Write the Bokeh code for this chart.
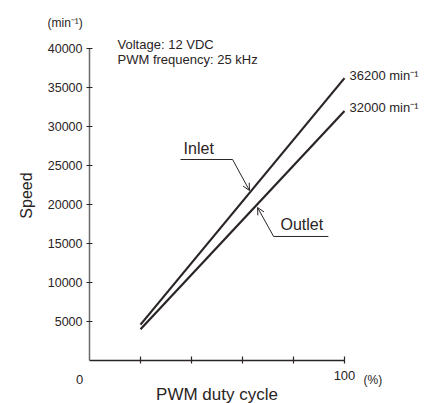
import numpy as np
from bokeh.plotting import figure
from bokeh.models import Label, Arrow, OpenHead, FixedTicker, Range1d, LinearAxis
from bokeh.embed import file_html
from bokeh.resources import INLINE

# ---- data ----
duty = [20, 100]                 # PWM duty cycle (%)
inlet = [4600, 36200]            # min^-1
outlet = [4000, 32000]           # min^-1
y_ticks = [5000, 10000, 15000, 20000, 25000, 30000, 35000, 40000]
x_ticks = [20, 40, 60, 80, 100]
end_labels = ["36200 min\u207b\u00b9", "32000 min\u207b\u00b9"]

DARK = "#2a2424"
GREY = "#6e6a6a"
SANS = "Liberation Sans"

# layout: plot area fills the canvas, axes are placed at the data origin
W, H = 437, 403
ORG_X, ORG_Y = 89, 360           # pixel position of the origin
PX_X = 255 / 100                 # px per % duty
PX_Y = 312 / 40000               # px per min^-1

p = figure(width=W, height=H,
           x_range=Range1d(-ORG_X / PX_X, (W - ORG_X) / PX_X),
           y_range=Range1d(-(H - ORG_Y) / PX_Y, ORG_Y / PX_Y),
           x_axis_type=None, y_axis_type=None,
           output_backend="svg", toolbar_location=None, min_border=0,
           min_border_left=0, min_border_right=0, min_border_top=0, min_border_bottom=0)
p.outline_line_color = None
p.grid.visible = False
p.background_fill_color = "white"

# y axis
ya = LinearAxis(fixed_location=0, bounds=(0, 40000), ticker=FixedTicker(ticks=y_ticks))
ya.axis_line_color = GREY
ya.axis_line_width = 1.5
ya.major_tick_line_color = DARK
ya.major_tick_line_width = 1.2
ya.major_tick_in = 3
ya.major_tick_out = 3
ya.minor_tick_line_color = None
ya.major_label_standoff = 4
ya.major_label_text_font = SANS
ya.major_label_text_font_size = "12.5px"
ya.major_label_text_color = DARK
p.add_layout(ya, "left")

# x axis
xa = LinearAxis(fixed_location=0, bounds=(0, 100), ticker=FixedTicker(ticks=x_ticks))
xa.major_label_overrides = {20: "", 40: "", 60: "", 80: "", 100: "100"}
xa.axis_line_color = DARK
xa.axis_line_width = 1.5
xa.major_tick_line_color = DARK
xa.major_tick_line_width = 1.2
xa.major_tick_in = 4
xa.major_tick_out = 3
xa.minor_tick_line_color = None
xa.major_label_standoff = 7
xa.major_label_text_font = SANS
xa.major_label_text_font_size = "13px"
xa.major_label_text_color = DARK
p.add_layout(xa, "below")

# data lines
p.line(duty, inlet, line_width=2.2, line_color=DARK)
p.line(duty, outlet, line_width=2.2, line_color=DARK)


def lab(x, y, text, size, align="left", baseline="middle", angle=0, xo=0, yo=0):
    p.add_layout(Label(x=x, y=y, text=text, text_font=SANS, text_font_size=size,
                       text_color=DARK, text_align=align, text_baseline=baseline,
                       angle=angle, x_offset=xo, y_offset=yo))


# end labels
lab(duty[-1], inlet[-1], end_labels[0], "13px", xo=5, yo=3)
lab(duty[-1], outlet[-1], end_labels[1], "13px", xo=5, yo=3)

# unit / axis texts
lab(0, 40000, "(min\u207b\u00b9)", "12px", xo=-42, yo=26)
lab(0, 0, "0", "13px", align="center", xo=-10, yo=-19)
lab(100, 0, "(%)", "12px", xo=19, yo=-19)
lab(50, 0, "PWM duty cycle", "17px", align="center", yo=-34)
lab(0, 21150, "Speed", "16px", align="center", angle=np.pi / 2, xo=-63)

# condition text
lab(11, 40450, "Voltage: 12 VDC", "13px")
lab(11, 38550, "PWM frequency: 25 kHz", "13px")

# Inlet annotation
xi = 62.75
yi = float(np.interp(xi, duty, inlet)) + 300
p.line([35.7, 56.1], [25770, 25770], line_width=1, line_color=DARK)
p.add_layout(Arrow(end=OpenHead(size=7, line_width=1, line_color=DARK),
                   x_start=56.1, y_start=25770, x_end=xi, y_end=yi,
                   line_width=1, line_color=DARK))
lab(36.9, 27180, "Inlet", "16px")

# Outlet annotation
xo_ = 65.9
yo_ = float(np.interp(xo_, duty, outlet)) - 450
p.line([72.2, 93.7], [15900, 15900], line_width=1, line_color=DARK)
p.add_layout(Arrow(end=OpenHead(size=7, line_width=1, line_color=DARK),
                   x_start=72.2, y_start=15900, x_end=xo_, y_end=yo_,
                   line_width=1, line_color=DARK))
lab(74.9, 17400, "Outlet", "16px")

open("out.html", "w").write(file_html(p, INLINE))
